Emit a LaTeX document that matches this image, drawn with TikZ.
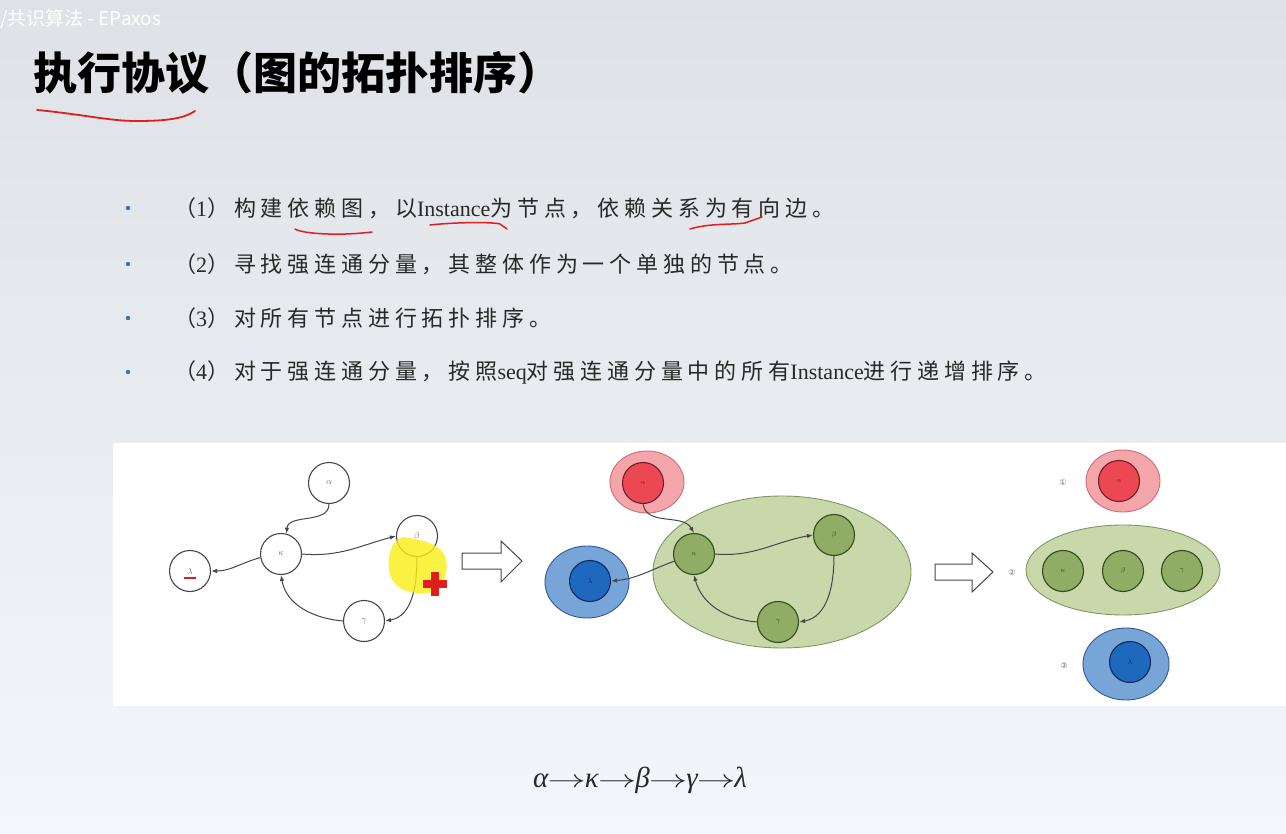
\documentclass[tikz,border=0pt]{standalone}
\usepackage{fontspec}
\usepackage{graphicx}
\setmainfont{Liberation Serif}
\newfontfamily\cjk[LetterSpace=22]{Noto Sans CJK SC}
\newfontfamily\cjkplain{Noto Sans CJK SC}
\newfontfamily\dejavu{DejaVu Sans}
\usetikzlibrary{shapes.geometric,arrows.meta}
\definecolor{bgtop}{RGB}{222,225,229}
\definecolor{bgmid}{RGB}{238,242,246}
\definecolor{bgbot}{RGB}{243,247,251}
\definecolor{txt}{RGB}{40,40,40}
\definecolor{bulletblue}{RGB}{60,110,180}
\definecolor{edgegray}{RGB}{70,70,70}
\definecolor{labelgray}{RGB}{110,110,110}
\definecolor{redoutfill}{RGB}{244,165,170}
\definecolor{redoutline}{RGB}{205,110,120}
\definecolor{redinfill}{RGB}{236,72,84}
\definecolor{redinline}{RGB}{110,30,40}
\definecolor{greenoutfill}{RGB}{200,216,170}
\definecolor{greenoutline}{RGB}{130,150,100}
\definecolor{greeninfill}{RGB}{145,172,100}
\definecolor{greeninline}{RGB}{50,75,30}
\definecolor{blueoutfill}{RGB}{120,165,215}
\definecolor{blueoutline}{RGB}{50,90,150}
\definecolor{blueinfill}{RGB}{30,105,190}
\definecolor{blueinline}{RGB}{15,40,90}
\definecolor{penred}{RGB}{225,30,30}
\definecolor{hilite}{RGB}{250,238,20}
\newcommand\bulletsize{\fontsize{22}{25}\selectfont}
\newcommand\ordarrow{\hspace{-1pt}\scalebox{1.55}[1]{$\rightarrow$}\hspace{-1pt}}
\tikzset{
  wnode/.style={circle, draw=edgegray, fill=white, line width=1.1pt, minimum size=41pt, inner sep=0pt, font=\fontsize{9}{10}\selectfont, text=labelgray},
  dep/.style={draw=edgegray, line width=1pt, -{Latex[length=6pt,width=4.5pt]}},
  redout/.style={ellipse, draw=redoutline, fill=redoutfill, line width=0.9pt, inner sep=0pt},
  redin/.style={circle, draw=redinline, fill=redinfill, line width=1.1pt, minimum size=41pt, inner sep=0pt, font=\fontsize{7}{8}\selectfont, text=redinline},
  greenout/.style={ellipse, draw=greenoutline, fill=greenoutfill, line width=0.9pt, inner sep=0pt},
  greenin/.style={circle, draw=greeninline, fill=greeninfill, line width=1.1pt, minimum size=41pt, inner sep=0pt, font=\fontsize{7}{8}\selectfont, text=greeninline},
  blueout/.style={ellipse, draw=blueoutline, fill=blueoutfill, line width=0.9pt, inner sep=0pt},
  bluein/.style={circle, draw=blueinline, fill=blueinfill, line width=1.1pt, minimum size=41pt, inner sep=0pt, font=\fontsize{7}{8}\selectfont, text=blueinline},
  bulletline/.style={anchor=west, inner sep=0pt, text=txt, font=\bulletsize},
  hollowarrow/.style={draw=edgegray, fill=white, line width=1pt, line join=miter},
  pen/.style={draw=penred, line width=1.8pt, line cap=round},
  circnum/.style={font=\dejavu\fontsize{8}{9}\selectfont, text=labelgray, inner sep=0pt}
}
\begin{document}
\begin{tikzpicture}[x=1pt,y=-1pt]
\useasboundingbox (0,0) rectangle (1286,834);
\shade[top color=bgtop, middle color=bgmid, bottom color=bgbot] (0,0) rectangle (1286,834);
% header and title
\node[anchor=west, inner sep=0pt, text=white, font=\cjkplain\fontsize{19}{22}\selectfont] (header) at (0,19) {/共识算法 - EPaxos};
\node[anchor=west, inner sep=0pt, text=black, font=\cjkplain\bfseries\fontsize{44}{48}\selectfont] (title) at (33,73) {执行协议（图的拓扑排序）};
\draw[pen] (37,110) .. controls (80,114) and (110,121) .. (135,121) .. controls (160,121) and (182,120) .. (195,111);
% bullets
\foreach \yy in {208,264,318,372} \fill[bulletblue] (128,\yy) circle (2.2);
\node[bulletline] (l1) at (174,208) {{\cjk （}1{\cjk ）构建依赖图，以}Instance{\cjk 为节点，依赖关系为有向边。}};
\node[bulletline] (l2) at (174,264) {{\cjk （}2{\cjk ）寻找强连通分量，其整体作为一个单独的节点。}};
\node[bulletline] (l3) at (174,318) {{\cjk （}3{\cjk ）对所有节点进行拓扑排序。}};
\node[bulletline] (l4) at (174,372) {{\cjk （}4{\cjk ）对于强连通分量，按照}seq{\cjk 对强连通分量中的所有}Instance{\cjk 进行递增排序。}};
\draw[pen, line width=1.5pt] (295,229) .. controls (303,234) and (340,236) .. (372,232);
\draw[pen, line width=1.5pt] (430,225) .. controls (457,222) and (493,222) .. (500,224) -- (507,229);
\draw[pen, line width=1.5pt] (690,229) .. controls (710,223) and (730,225) .. (745,223) -- (762,217);
% white panel
\fill[white] (113,443) rectangle (1286,706);
% left graph
\node[wnode] (la) at (329,483) {$\alpha$};
\node[wnode] (lk) at (281,554) {$\kappa$};
\node[wnode] (lb) at (417,536) {$\beta$};
\node[wnode] (lg) at (364,621) {$\gamma$};
\node[wnode] (ll) at (190,571) {$\lambda$};
\draw[pen, line width=2pt, line cap=butt] (184,578) -- (196,578);
\draw[dep] (la.south) to[out=-90,in=85] (lk.75);
\draw[dep] (lk.190) to[out=195,in=0] (ll.east);
\draw[dep] (lk.east) to[out=-5,in=195] (lb.west);
\draw[dep] (lb.south) to[out=-90,in=10] (lg.east);
\draw[dep] (lg.west) to[out=175,in=-80] (lk.south);
\fill[hilite, opacity=0.8] (403,537) .. controls (425,540) and (443,545) .. (446,560) .. controls (449,578) and (440,592) .. (427,593) .. controls (410,594) and (392,590) .. (389,570) .. controls (387,555) and (392,540) .. (403,537) -- cycle;
\fill[penred] (431,572) rectangle (439,596);
\fill[penred] (423,580) rectangle (447,588);
% arrow 1
\draw[hollowarrow] (462,553) -- (501,553) -- (501,541) -- (522,561) -- (501,582) -- (501,569) -- (462,569) -- cycle;
% middle graph
\node[redout, minimum width=74pt, minimum height=62pt] (mra) at (647,482) {};
\node[greenout, minimum width=258pt, minimum height=152pt] (mgr) at (782,572) {};
\node[blueout, minimum width=84pt, minimum height=72pt] (mbl) at (587,582) {};
\node[redin] (ma) at (643,483) {$\alpha$};
\node[greenin] (mk) at (694,554) {$\kappa$};
\node[greenin] (mb) at (834,535) {$\beta$};
\node[greenin] (mg) at (778,622) {$\gamma$};
\node[bluein] (ml) at (590,581) {$\lambda$};
\draw[dep] (ma.south) to[out=-80,in=120] (mk.north);
\draw[dep] (mk.200) to[out=200,in=5] (ml.east);
\draw[dep] (mk.east) to[out=-5,in=190] (mb.west);
\draw[dep] (mb.south) to[out=-90,in=10] (mg.east);
\draw[dep] (mg.west) to[out=175,in=-75] (mk.south);
% arrow 2
\draw[hollowarrow] (935,564) -- (972,564) -- (972,553) -- (993,572) -- (972,592) -- (972,580) -- (935,580) -- cycle;
% right result
\node[redout, minimum width=74pt, minimum height=62pt] (rra) at (1123,481) {};
\node[redin] (ra) at (1119,481) {$\alpha$};
\node[greenout, minimum width=194pt, minimum height=90pt] (rgr) at (1123,570) {};
\node[greenin] (rk) at (1063,571) {$\kappa$};
\node[greenin] (rb) at (1123,571) {$\beta$};
\node[greenin] (rg) at (1182,571) {$\gamma$};
\node[blueout, minimum width=86pt, minimum height=72pt] (rbl) at (1126,664) {};
\node[bluein] (rl) at (1130,662) {$\lambda$};
\node[circnum] (n1) at (1063,483) {①};
\node[circnum] (n2) at (1012,573) {②};
\node[circnum] (n3) at (1064,666) {③};
% bottom formula
\node[text=txt, font=\itshape\fontsize{29}{32}\selectfont, inner sep=0pt] (order) at (640,780) {α\ordarrow κ\ordarrow β\ordarrow γ\ordarrow λ};
\end{tikzpicture}
\end{document}
